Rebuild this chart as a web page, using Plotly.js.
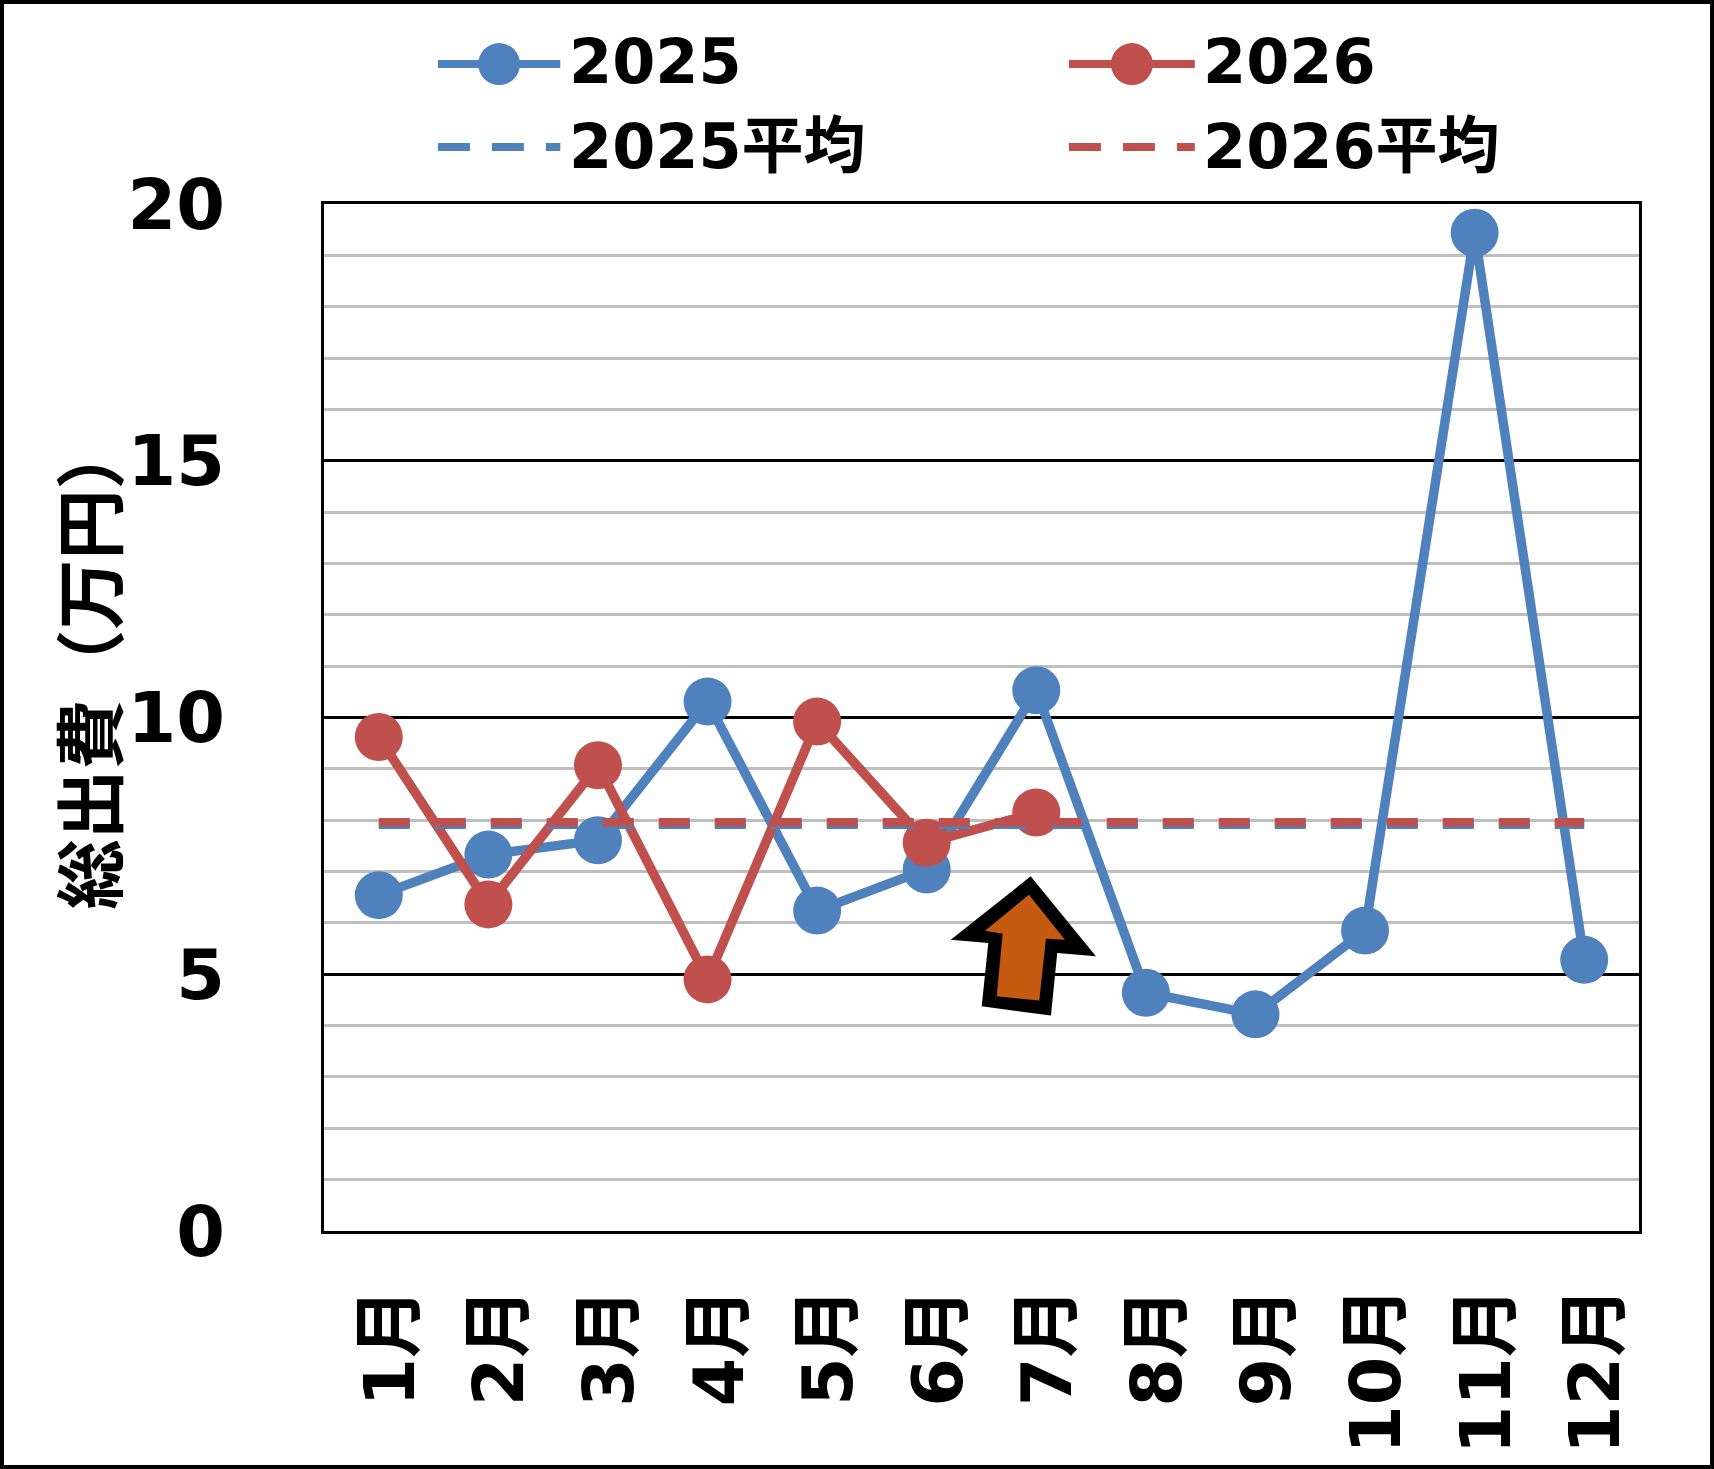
<!DOCTYPE html>
<html>
<head>
<meta charset="utf-8">
<script src="https://cdn.plot.ly/plotly-3.0.1.min.js"></script>
<style>
    html, body { margin: 0; padding: 0; background: #fff; }
    #frame { width: 1714px; height: 1469px; box-sizing: border-box; border: 4px solid #000; }
    #chart { width: 1706px; height: 1461px; }
</style>
</head>
<body>
<div id="frame"><div id="chart"></div></div>
<script>
// Monthly total spending (万円)
const months = ['1月', '2月', '3月', '4月', '5月', '6月', '7月', '8月', '9月', '10月', '11月', '12月'];
const spend2025 = [6.54, 7.33, 7.61, 10.31, 6.24, 7.04, 10.53, 4.64, 4.22, 5.85, 19.44, 5.28];
const spend2026 = [9.62, 6.36, 9.07, 4.90, 9.92, 7.56, 8.15];
const avg2025 = 7.91;
const avg2026 = 7.96;
const seriesNames = ['2025', '2026', '2025平均', '2026平均'];
const yTitle = '総出費（万円）';

const BLUE = '#4F81BD';
const RED = '#C0504D';
const ORANGE = '#C55A11';

// plot area in image pixels (used only for the hand-drawn legend and arrow)
const PL = 323.5, PT = 204, PW = 1316, PH = 1027.5;
const px = X => (X - PL) / PW;
const py = Y => (PT + PH - Y) / PH;

document.addEventListener('DOMContentLoaded', function() {
    drawChart();
});

function drawChart() {
    const traces = [
        {
            x: months, y: spend2025, name: seriesNames[0],
            type: 'scatter', mode: 'lines+markers',
            line: {color: BLUE, width: 9.5},
            marker: {color: BLUE, size: 48, line: {width: 0}}
        },
        {
            x: months.slice(0, spend2026.length), y: spend2026, name: seriesNames[1],
            type: 'scatter', mode: 'lines+markers',
            line: {color: RED, width: 9.5},
            marker: {color: RED, size: 48, line: {width: 0}}
        },
        {
            x: months, y: months.map(() => avg2025), name: seriesNames[2],
            type: 'scatter', mode: 'lines',
            line: {color: BLUE, width: 8.5, dash: '31px,25px'}
        },
        {
            x: months, y: months.map(() => avg2026), name: seriesNames[3],
            type: 'scatter', mode: 'lines',
            line: {color: RED, width: 8.5, dash: '31px,25px'}
        }
    ];

    const shapes = [];
    const annotations = [];

    // legend, drawn by hand so the sample lines are as long as in the original
    const legendCols = [[437.5, 560, 567], [1069, 1195, 1201]];
    const legendRows = [64, 147];
    const legendTextRows = [61, 146];
    const legendColors = [BLUE, RED];
    seriesNames.forEach((name, i) => {
        const col = legendCols[i % 2];
        const r = Math.floor(i / 2);
        const row = legendRows[r];
        const color = legendColors[i % 2];
        const dashed = i >= 2;
        shapes.push({
            type: 'line', xref: 'paper', yref: 'paper',
            x0: px(col[0]), x1: px(col[1]), y0: py(row), y1: py(row),
            line: {color: color, width: 8, dash: dashed ? '32px,22px' : 'solid'}
        });
        if (!dashed) {
            shapes.push({
                type: 'circle', xref: 'paper', yref: 'paper',
                xsizemode: 'pixel', ysizemode: 'pixel',
                xanchor: px((col[0] + col[1]) / 2), yanchor: py(row),
                x0: -21, x1: 21, y0: -21, y1: 21,
                fillcolor: color, line: {width: 0}
            });
        }
        annotations.push({
            text: name, xref: 'paper', yref: 'paper',
            x: px(col[2]), y: py(legendTextRows[r]), xanchor: 'left', yanchor: 'middle',
            showarrow: false,
            font: {family: 'DejaVu Sans, Noto Sans CJK JP', size: 62, weight: 'bold', color: '#000'}
        });
    });

    // month labels, rotated, sitting slightly right of each category like the original
    months.forEach(m => {
        annotations.push({
            text: m, xref: 'x', yref: 'paper',
            x: m, y: py(1286), xanchor: 'center', yanchor: 'top', xshift: 11,
            textangle: -90, showarrow: false,
            font: {family: 'DejaVu Sans, Noto Sans CJK JP', size: 70, weight: 'bold', color: '#000'}
        });
    });

    // orange block arrow pointing up at 7月
    const outer = [[1030.7, 876.7], [1096, 956.7], [1057.3, 953.3], [1051, 1016],
                   [981.7, 1006.7], [988.3, 943.3], [950.7, 940]];
    const inner = [[1029, 895], [1065, 940], [1046, 939], [1039.3, 1001],
                   [996.7, 996.7], [1002.7, 934], [985, 931]];
    const toPath = pts => 'M' + pts.map(p => px(p[0]) + ',' + py(p[1])).join('L') + 'Z';
    shapes.push({type: 'path', xref: 'paper', yref: 'paper', path: toPath(outer),
                 fillcolor: '#000', line: {width: 0}});
    shapes.push({type: 'path', xref: 'paper', yref: 'paper', path: toPath(inner),
                 fillcolor: ORANGE, line: {width: 0}});

    // y axis title
    annotations.push({
        text: yTitle, xref: 'paper', yref: 'paper',
        x: px(86), y: py(665), xanchor: 'center', yanchor: 'middle',
        textangle: -90, showarrow: false,
        font: {family: 'Noto Sans CJK JP', size: 70, weight: 'bold', color: '#000'}
    });

    const layout = {
        width: 1706, height: 1461,
        margin: {l: 319.5, r: 70.5, t: 200, b: 233.5},
        paper_bgcolor: '#fff',
        plot_bgcolor: '#fff',
        showlegend: false,
        xaxis: {
            type: 'category', range: [-0.5, 11.5],
            showgrid: false, zeroline: false,
            showline: true, mirror: true, linecolor: '#000', linewidth: 3,
            ticks: '', showticklabels: false
        },
        yaxis: {
            range: [0, 20], tick0: 0, dtick: 5,
            showgrid: true, gridcolor: '#000', gridwidth: 3,
            minor: {dtick: 1, showgrid: true, gridcolor: '#BFBFBF', gridwidth: 3},
            zeroline: false,
            showline: true, mirror: true, linecolor: '#000', linewidth: 3,
            ticks: '', ticklabelstandoff: 82,
            tickfont: {family: 'DejaVu Sans', size: 70, weight: 'bold', color: '#000'}
        },
        shapes: shapes,
        annotations: annotations
    };

    Plotly.newPlot('chart', traces, layout, {displayModeBar: false, staticPlot: true});
}
</script>
</body>
</html>
